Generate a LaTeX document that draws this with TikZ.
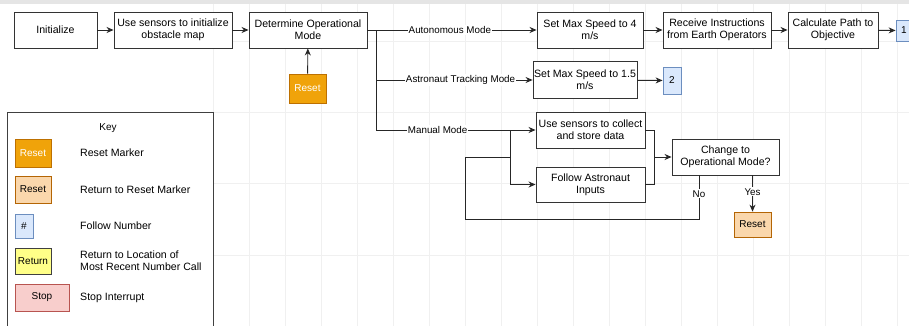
\documentclass[tikz,border=0pt]{standalone}
\usepackage{fontspec}
\setmainfont{Liberation Sans}
\usetikzlibrary{arrows.meta,positioning,calc}
\definecolor{darkorange}{HTML}{F0A30A}
\definecolor{darkorangeline}{HTML}{BD7000}
\definecolor{lightorange}{HTML}{FAD7AC}
\definecolor{lightorangeline}{HTML}{B46504}
\definecolor{lightblue}{HTML}{DAE8FC}
\definecolor{lightblueline}{HTML}{6C8EBF}
\definecolor{lightyellow}{HTML}{FFFF88}
\definecolor{lightpink}{HTML}{F8CECC}
\definecolor{lightpinkline}{HTML}{B85450}
\tikzset{
  stepbox/.style={draw=black!80,line width=0.9pt,fill=white,align=center,inner sep=1pt,
    minimum width=#1,minimum height=36pt,font=\fontsize{10.6}{12.4}\selectfont},
  stepbox/.default=118pt,
  tagbox/.style={draw,line width=0.8pt,inner sep=0pt,font=\fontsize{10}{12}\selectfont},
  resetmark/.style={tagbox,fill=darkorange,draw=darkorangeline,text=white},
  resetret/.style={tagbox,fill=lightorange,draw=lightorangeline},
  numbox/.style={tagbox,fill=lightblue,draw=lightblueline},
  edgelbl/.style={fill=white,inner sep=1pt,font=\fontsize{9.8}{11}\selectfont},
  keylbl/.style={anchor=west,align=left,inner sep=0pt,font=\fontsize{10.6}{12.4}\selectfont},
  flow/.style={line width=0.9pt,draw=black!85,-{Stealth[length=7pt,width=6pt]}},
  link/.style={line width=0.9pt,draw=black!85}
}
\begin{document}
\begin{tikzpicture}[x=1pt,y=-1pt]
  \useasboundingbox (0,0) rectangle (909,326);
  % Leinwand mit schwachem Raster
  \fill[white] (0,0) rectangle (909,326);
  \fill[black!10] (0,0) rectangle (909,4);
  \foreach \gx in {213,249,...,909}{
    \draw[black!6,line width=0.6pt] (\gx,4) -- (\gx,326);
  }
  \foreach \gy in {41,112,183,255}{
    \draw[black!6,line width=0.6pt] (213,\gy) -- (909,\gy);
  }

  % Hauptablauf
  \node[stepbox=83pt] (init) at (55.5,30) {Initialize};
  \node[stepbox] (obstmap) at (173,30) {Use sensors to initialize\\obstacle map};
  \node[stepbox] (opmode) at (308,30) {Determine Operational\\Mode};
  \node[resetmark,minimum width=37pt,minimum height=29pt] (resetA) at (307.5,88.5) {Reset};
  \draw[flow] (init) -- (obstmap);
  \draw[flow] (obstmap) -- (opmode);
  \draw[flow] (resetA) -- (opmode);

  % Verzweigung nach Betriebsart
  \coordinate (splitA) at (376,30);
  \coordinate (splitB) at (376,80);
  \coordinate (splitC) at (376,130);
  \draw[link] (opmode.east) -- (splitA) -- (splitC);

  % Autonomer Modus
  \node[stepbox=106pt] (speedA) at (590,30) {Set Max Speed to 4\\m/s};
  \node[stepbox=108pt] (earthcmd) at (717,30) {Receive Instructions\\from Earth Operators};
  \node[stepbox=90pt] (pathcalc) at (833,30) {Calculate Path to\\Objective};
  \node[numbox,minimum width=16pt,minimum height=21pt] (numA) at (904,30.5) {1};
  \draw[flow] (splitA) -- node[edgelbl,pos=0.46] {Autonomous Mode} (speedA);
  \draw[flow] (speedA) -- (earthcmd);
  \draw[flow] (earthcmd) -- (pathcalc);
  \draw[flow] (pathcalc) -- (numA);

  % Astronauten-Verfolgung
  \node[stepbox=98pt,minimum height=37pt] (speedB) at (585,80) {Set Max Speed to 1.5\\m/s};
  \node[numbox,minimum width=18pt,minimum height=27pt] (numB) at (672,80.5) {2};
  \draw[flow] (splitB) -- node[edgelbl,pos=0.54] {Astronaut Tracking Mode} (speedB);
  \draw[flow] (speedB) -- (numB);

  % Manueller Modus
  \node[stepbox=109pt] (collect) at (590.5,130) {Use sensors to collect\\and store data};
  \node[stepbox=109pt,minimum height=35pt] (follow) at (590.5,184.5) {Follow Astronaut\\Inputs};
  \node[stepbox=107pt] (askmode) at (725.5,157) {Change to\\Operational Mode?};
  \node[resetret,minimum width=37pt,minimum height=25pt] (resetB) at (752.5,224.5) {Reset};
  \coordinate (manjoin) at (510,130);
  \coordinate (loopjoin) at (510,157);
  \coordinate (merge) at (654,157);
  \coordinate (nofoot) at (699,219);
  \coordinate (noleft) at (465,219);
  \draw[link] (splitC) -- node[edgelbl,pos=0.46] {Manual Mode} (manjoin);
  \draw[flow] (manjoin) -- (collect);
  \draw[flow] (manjoin) |- (follow);
  \draw[link] (collect.east) -| (merge);
  \draw[link] (follow.east) -| (merge);
  \draw[flow] (merge) -- (askmode);
  \draw[link] (askmode.south -| nofoot) -- node[edgelbl,pos=0.42] {No} (nofoot) -- (noleft) |- (loopjoin);
  \draw[flow] (askmode.south -| resetB) -- node[edgelbl,pos=0.45] {Yes} (resetB);

  % Legende
  \draw[black!75,line width=0.9pt,fill=white] (7,112) rectangle (213,340);
  \node[font=\fontsize{10}{12}\selectfont] (keytitle) at (108,128) {Key};
  \node[resetmark,minimum width=36pt,minimum height=28pt] (keyA) at (33,153) {Reset};
  \node[resetret,minimum width=36pt,minimum height=27pt] (keyB) at (33,189.5) {Reset};
  \node[numbox,minimum width=18pt,minimum height=24pt] (keyC) at (24,226) {\#};
  \node[tagbox,fill=lightyellow,draw=black!75,minimum width=36pt,minimum height=26pt] (keyD) at (33,261) {Return};
  \node[tagbox,fill=lightpink,draw=lightpinkline,minimum width=54pt,minimum height=27pt] (keyE) at (42,297.5) {Stop};
  \node[keylbl] (keyAtxt) at (80,153) {Reset Marker};
  \node[keylbl] (keyBtxt) at (80,189.5) {Return to Reset Marker};
  \node[keylbl] (keyCtxt) at (80,226) {Follow Number};
  \node[keylbl] (keyDtxt) at (80,261) {Return to Location of\\Most Recent Number Call};
  \node[keylbl] (keyEtxt) at (80,297.5) {Stop Interrupt};
\end{tikzpicture}
\end{document}
